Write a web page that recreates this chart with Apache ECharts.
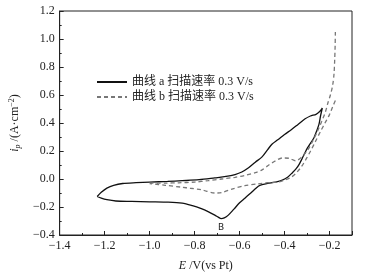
<!DOCTYPE html>
<html>
<head>
<meta charset="utf-8">
<script src="https://cdn.jsdelivr.net/npm/echarts@6/dist/echarts.min.js"></script>
<style>
  html, body { margin: 0; padding: 0; background: #fff; }
  #cv { width: 365px; height: 277px; }
</style>
</head>
<body>
<div id="cv"></div>
<script>
// curve a : upper branch (tip -> apex), lower branch (apex -> tip)
var aUpper = [[-1.233,-0.125],[-1.215,-0.095],[-1.19,-0.065],[-1.16,-0.045],[-1.12,-0.032],[-1.06,-0.026],
  [-1.0,-0.022],[-0.92,-0.017],[-0.855,-0.012],[-0.78,-0.005],[-0.71,0.008],[-0.66,0.018],[-0.62,0.032],
  [-0.59,0.05],[-0.56,0.08],[-0.53,0.12],[-0.5,0.158],[-0.475,0.21],[-0.455,0.25],[-0.43,0.28],[-0.4,0.318],
  [-0.37,0.352],[-0.34,0.39],[-0.31,0.428],[-0.285,0.45],[-0.26,0.462],[-0.245,0.48],[-0.232,0.507]];
var aLower = [[-0.232,0.507],[-0.24,0.45],[-0.247,0.39],[-0.258,0.34],[-0.269,0.295],[-0.285,0.255],
  [-0.298,0.222],[-0.31,0.185],[-0.32,0.152],[-0.335,0.105],[-0.35,0.07],[-0.365,0.045],[-0.385,0.015],
  [-0.41,-0.008],[-0.44,-0.022],[-0.475,-0.032],[-0.51,-0.045],[-0.53,-0.07],[-0.55,-0.1],[-0.575,-0.135],
  [-0.6,-0.17],[-0.625,-0.215],[-0.65,-0.258],[-0.668,-0.278],[-0.682,-0.283],[-0.695,-0.272],[-0.71,-0.258],
  [-0.74,-0.233],[-0.77,-0.212],[-0.81,-0.19],[-0.855,-0.172],[-0.93,-0.165],[-1.0,-0.163],[-1.08,-0.16],
  [-1.15,-0.157],[-1.19,-0.148],[-1.215,-0.137],[-1.233,-0.125]];

// curve b : forward (left -> top), reverse (right -> left)
var bForward = [[-1.0,-0.03],[-0.93,-0.029],[-0.87,-0.027],[-0.8,-0.022],[-0.74,-0.012],[-0.68,0.0],
  [-0.62,0.012],[-0.577,0.025],[-0.53,0.045],[-0.5,0.065],[-0.47,0.1],[-0.44,0.13],[-0.41,0.15],[-0.38,0.148],
  [-0.35,0.13],[-0.325,0.155],[-0.3,0.2],[-0.275,0.27],[-0.254,0.34],[-0.235,0.41],[-0.218,0.48],[-0.206,0.55],
  [-0.196,0.6],[-0.186,0.67],[-0.18,0.75],[-0.177,0.85],[-0.175,0.95],[-0.174,1.05]];
var bReverse = [[-0.174,0.56],[-0.185,0.52],[-0.2,0.46],[-0.22,0.4],[-0.24,0.34],[-0.262,0.27],[-0.284,0.2],
  [-0.305,0.14],[-0.327,0.083],[-0.35,0.04],[-0.371,0.012],[-0.4,-0.008],[-0.43,-0.022],[-0.474,-0.026],
  [-0.52,-0.035],[-0.577,-0.048],[-0.63,-0.07],[-0.68,-0.097],[-0.71,-0.1],[-0.767,-0.078],[-0.82,-0.066],
  [-0.855,-0.059],[-0.93,-0.045],[-1.0,-0.033]];

var peakB = [-0.682, -0.283];
var legendNames = ['曲线 a 扫描速率 0.3 V/s', '曲线 b 扫描速率 0.3 V/s'];

var serif = 'Liberation Serif, Times New Roman, serif';
var minus = function (v) { return String(v).replace('-', '\u2212'); };

var chart = echarts.init(document.getElementById('cv'));
var option = {
  animation: false,
  grid: {
    left: 56, right: 13, top: 11, bottom: 41,
    show: true, borderColor: '#222', borderWidth: 1
  },
  legend: {
    orient: 'vertical',
    left: 91, top: 71,
    itemWidth: 30, itemHeight: 10, itemGap: 3,
    data: legendNames,
    itemStyle: { opacity: 0 },
    textStyle: { fontFamily: serif + ', Noto Sans CJK SC', fontSize: 12, color: '#222' }
  },
  xAxis: {
    type: 'value',
    min: -1.4, max: -0.1, interval: 0.2,
    name: '{e|E} /V(vs Pt)',
    nameLocation: 'middle', nameGap: 25,
    nameTextStyle: {
      fontFamily: serif, fontSize: 12, color: '#222',
      rich: { e: { fontFamily: serif, fontStyle: 'italic', fontSize: 12, color: '#222' } }
    },
    axisLine: { onZero: false, lineStyle: { color: '#222' } },
    axisTick: { inside: true, length: 4, lineStyle: { color: '#222' } },
    minorTick: { show: true, splitNumber: 2, length: 2, lineStyle: { color: '#222' } },
    splitLine: { show: false },
    axisLabel: {
      fontFamily: serif, fontSize: 12, color: '#222', margin: 5,
      formatter: function (v) { return v > -0.15 ? '' : minus(v.toFixed(1)); }
    }
  },
  yAxis: {
    type: 'value',
    min: -0.4, max: 1.2, interval: 0.2,
    name: '{i|i}{p|p} /(A·cm{s|−2})',
    nameLocation: 'middle', nameGap: 36,
    nameTextStyle: {
      fontFamily: serif, fontSize: 12, color: '#222',
      rich: {
        i: { fontFamily: serif, fontStyle: 'italic', fontSize: 12, color: '#222' },
        p: { fontFamily: serif, fontStyle: 'italic', fontSize: 8, color: '#222', verticalAlign: 'bottom', padding: [6, 0, 0, 0] },
        s: { fontFamily: serif, fontSize: 8, color: '#222', verticalAlign: 'top', padding: [0, 0, 6, 0] }
      }
    },
    axisLine: { show: true, onZero: false, lineStyle: { color: '#222' } },
    axisTick: { show: true, inside: true, length: 4, lineStyle: { color: '#222' } },
    minorTick: { show: true, splitNumber: 2, length: 2, lineStyle: { color: '#222' } },
    splitLine: { show: false },
    axisLabel: {
      fontFamily: serif, fontSize: 12, color: '#222', margin: 5,
      formatter: function (v) { return minus(v.toFixed(1)); }
    }
  },
  series: [
    {
      name: legendNames[0],
      type: 'line',
      symbol: 'none',
      smooth: 0.3,
      data: aUpper.concat(aLower.slice(1)),
      lineStyle: { color: '#111', width: 1.3 },
      itemStyle: { color: '#111' },
      markPoint: {
        symbol: 'circle', symbolSize: 0,
        label: {
          show: true, position: 'bottom', distance: 5,
          formatter: 'B', fontFamily: 'DejaVu Sans, sans-serif', fontSize: 9, color: '#222'
        },
        data: [{ coord: peakB }]
      }
    },
    {
      name: legendNames[1],
      type: 'line',
      symbol: 'none',
      smooth: 0.3,
      connectNulls: false,
      // gap between the top of the forward scan and the start of the reverse one
      data: bForward.concat([['-', '-']], bReverse),
      lineStyle: { color: '#777', width: 1.3, type: [4, 3] },
      itemStyle: { color: '#777' }
    }
  ]
};
chart.setOption(option);
</script>
</body>
</html>
